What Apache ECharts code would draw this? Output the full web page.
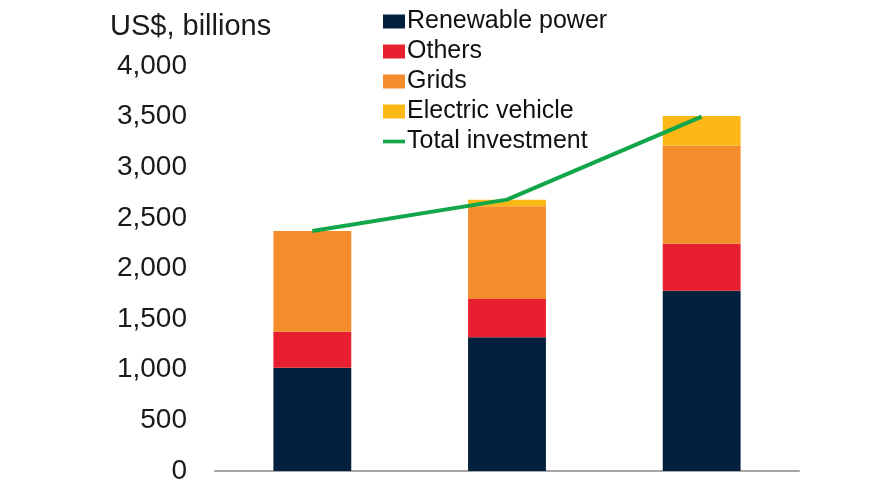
<!DOCTYPE html>
<html>
<head>
<meta charset="utf-8">
<script src="https://cdn.jsdelivr.net/npm/echarts@6/dist/echarts.min.js"></script>
<style>html,body{margin:0;padding:0;background:#fff}#c{width:870px;height:492px}</style>
</head>
<body>
<div id="c"></div>
<script>
const categories = ['Scenario 1', 'Scenario 2', 'Scenario 3'];
const renewablePower = [1020, 1320, 1780];
const others = [355, 380, 465];
const grids = [995, 915, 970];
const electricVehicle = [0, 65, 290];
const totalInvestment = [2370, 2680, 3500];
const yTicks = [0, 500, 1000, 1500, 2000, 2500, 3000, 3500, 4000];

const chart = echarts.init(document.getElementById('c'), null, {renderer: 'canvas'});
const font = 'Liberation Sans, Arial, sans-serif';
chart.setOption({
  animation: false,
  title: {
    text: 'US$, billions', left: 105, top: 7,
    textStyle: {fontFamily: font, fontSize: 29, fontWeight: 'normal', color: '#1a1a1a'}
  },
  legend: {
    orient: 'vertical', left: 378, top: 4,
    itemWidth: 22, itemHeight: 14, itemGap: 5,
    textStyle: {fontFamily: font, fontSize: 25, color: '#111', lineHeight: 25, padding: [0,0,0,-3]},
    data: [
      {name: 'Renewable power', icon: 'rect'},
      {name: 'Others', icon: 'rect'},
      {name: 'Grids', icon: 'rect'},
      {name: 'Electric vehicle', icon: 'rect'},
      {name: 'Total investment', icon: 'path://M0,0 H24 V4 H0 Z', itemStyle: {color: '#12a64a'}}
    ]
  },
  grid: {left: 215, right: 71, top: 66, bottom: 21, containLabel: false},
  xAxis: {
    type: 'category', data: categories,
    axisLine: {lineStyle: {color: '#a6a6a6', width: 2}},
    axisTick: {show: false}, axisLabel: {show: false}
  },
  yAxis: {
    type: 'value', min: yTicks[0], max: yTicks[yTicks.length - 1], interval: 500,
    axisLine: {show: false}, axisTick: {show: false}, splitLine: {show: false},
    axisLabel: {
      fontFamily: font, fontSize: 28, color: '#1a1a1a', margin: 28,
      formatter: v => v.toLocaleString('en-US')
    }
  },
  series: [
    {name: 'Renewable power', type: 'bar', stack: 't', data: renewablePower, barWidth: '40%', itemStyle: {color: '#03203f'}},
    {name: 'Others', type: 'bar', stack: 't', data: others, itemStyle: {color: '#e81f2f'}},
    {name: 'Grids', type: 'bar', stack: 't', data: grids, itemStyle: {color: '#f48c2c'}},
    {name: 'Electric vehicle', type: 'bar', stack: 't', data: electricVehicle, itemStyle: {color: '#fbb817'}},
    {name: 'Total investment', type: 'line', data: totalInvestment, symbol: 'none', z: 5,
     lineStyle: {color: '#12a64a', width: 4}, itemStyle: {color: '#12a64a'}}
  ]
});
</script>
</body>
</html>
